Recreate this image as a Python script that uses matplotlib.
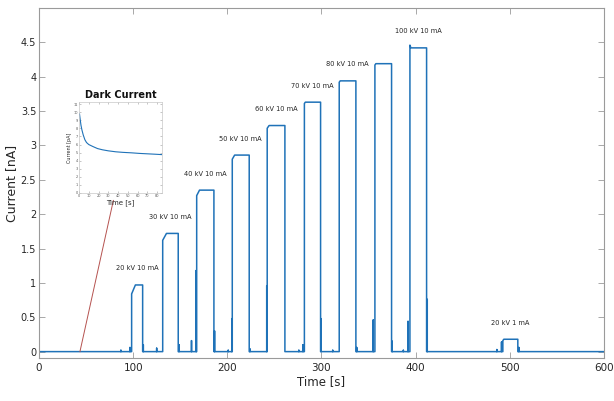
import numpy as np
import matplotlib
matplotlib.use("Agg")
import matplotlib.pyplot as plt

# Pulsos de rayos X: inicio, fin, nivel inicial y nivel de meseta (nA)
pulse_start = [98.4, 131.4, 167.5, 205.3, 242.4, 281.9, 318.9, 356.8, 394.0, 492.7]
pulse_end = [110.1, 147.9, 185.8, 223.3, 261.2, 299.1, 336.6, 374.5, 411.7, 508.6]
pulse_onset = [0.84, 1.62, 2.27, 2.80, 3.25, 3.61, 3.92, 4.17, 4.46, 0.16]
pulse_level = [0.97, 1.72, 2.35, 2.86, 3.29, 3.63, 3.94, 4.19, 4.42, 0.18]
pulse_settle = [4, 4, 3, 2.5, 2, 1, 1, 1, 1, 1]
pulse_label = ["20 kV 10 mA", "30 kV 10 mA", "40 kV 10 mA", "50 kV 10 mA",
               "60 kV 10 mA", "70 kV 10 mA", "80 kV 10 mA", "",
               "100 kV 10 mA", "20 kV 1 mA"]

# Picos transitorios entre pulsos (tiempo en s, altura en nA)
spike_t = [87.0, 96.6, 110.8, 125.0, 148.7, 162.0, 167.0, 186.5, 201.0, 204.8,
           224.0, 241.9, 276.0, 280.4, 299.7, 312.0, 337.5, 355.0, 375.2, 387.0,
           392.0, 412.4, 486.3, 491.3, 509.7]
spike_h = [0.02, 0.06, 0.10, 0.05, 0.10, 0.16, 1.18, 0.30, 0.02, 0.48,
           0.04, 0.96, 0.02, 0.10, 0.48, 0.02, 0.06, 0.46, 0.15, 0.02,
           0.44, 0.76, 0.03, 0.14, 0.06]

# Corriente oscura (recuadro)
dark_t = [0.5, 1, 2, 3, 4.3, 6, 7.7, 10, 14.3, 19, 24, 30, 37.7, 45, 54, 62, 70, 78, 85]
dark_i = [9.8, 9.3, 8.4, 7.8, 7.2, 6.6, 6.25, 6.0, 5.75, 5.5, 5.35, 5.22, 5.1,
          5.03, 4.97, 4.9, 4.85, 4.8, 4.75]

blue = "#1f72b8"
grey = "#9a9a9a"
txt = "#262626"

# Construir la traza como lista de vértices
events = []
for s, e, o, lv, st in zip(pulse_start, pulse_end, pulse_onset, pulse_level, pulse_settle):
    events.append((s, [(s, 0), (s, o), (s + st, lv), (e, lv), (e, 0)]))
for t, h in zip(spike_t, spike_h):
    events.append((t, [(t, 0), (t, h), (t, 0)]))
events.sort(key=lambda ev: ev[0])
verts = [(0, 0)]
for _, v in events:
    verts.extend(v)
verts.append((600, 0))
tx = [p[0] for p in verts]
ty = [p[1] for p in verts]

fig = plt.figure(figsize=(6.14, 4.01), dpi=100)
ax = fig.add_axes([0.0635, 0.106, 0.92, 0.874])
ax.plot(tx, ty, color=blue, lw=1.1)

for s, e, lv, lab in zip(pulse_start, pulse_end, pulse_level, pulse_label):
    if lab:
        ax.text((s + e) / 2, lv + 0.24, lab, ha="center", va="center",
                fontsize=4.8, color=txt)

# Línea que une el recuadro con el instante de la medida
ax.plot([43.5, 79], [0, 2.2], color="#b5524f", lw=0.7)

ax.set_xlim(0, 600)
ax.set_ylim(-0.1, 5)
ax.set_xticks(np.arange(0, 601, 100))
ax.set_yticks(np.arange(0, 4.6, 0.5))
ax.set_yticklabels(["0", "0.5", "1", "1.5", "2", "2.5", "3", "3.5", "4", "4.5"])
ax.tick_params(direction="in", top=True, right=True, labelsize=7.5,
               colors=grey, labelcolor=txt, length=4, width=0.6)
ax.tick_params(axis="y", labelsize=7, pad=2)
for sp in ax.spines.values():
    sp.set_color(grey)
    sp.set_linewidth(0.8)
ax.set_xlabel("Time [s]", fontsize=8.5, color=txt, labelpad=1)
ax.set_ylabel("Current [nA]", fontsize=9, color=txt)
ax.yaxis.set_label_coords(-0.037, 0.5)

# Recuadro de corriente oscura
ins = fig.add_axes([0.1287, 0.519, 0.135, 0.227])
ins.plot(dark_t, dark_i, color=blue, lw=0.8)
ins.set_xlim(0, 85)
ins.set_ylim(0, 11.3)
ins.set_xticks(np.arange(0, 81, 10))
ins.set_yticks(np.arange(0, 12, 1))
ins.tick_params(direction="in", top=True, right=True, labelsize=2.5,
                colors=grey, labelcolor="#555555", length=1.5, width=0.4, pad=1)
for sp in ins.spines.values():
    sp.set_color("#c8c8c8")
    sp.set_linewidth(0.5)
ins.set_xlabel("Time [s]", fontsize=5, color=txt, labelpad=1)
ins.set_ylabel("Current [pA]", fontsize=3.5, color=txt, labelpad=1)
ins.set_title("Dark Current", fontsize=7, fontweight="bold", color="#111111", pad=3)

fig.savefig("out.png", dpi=100)
